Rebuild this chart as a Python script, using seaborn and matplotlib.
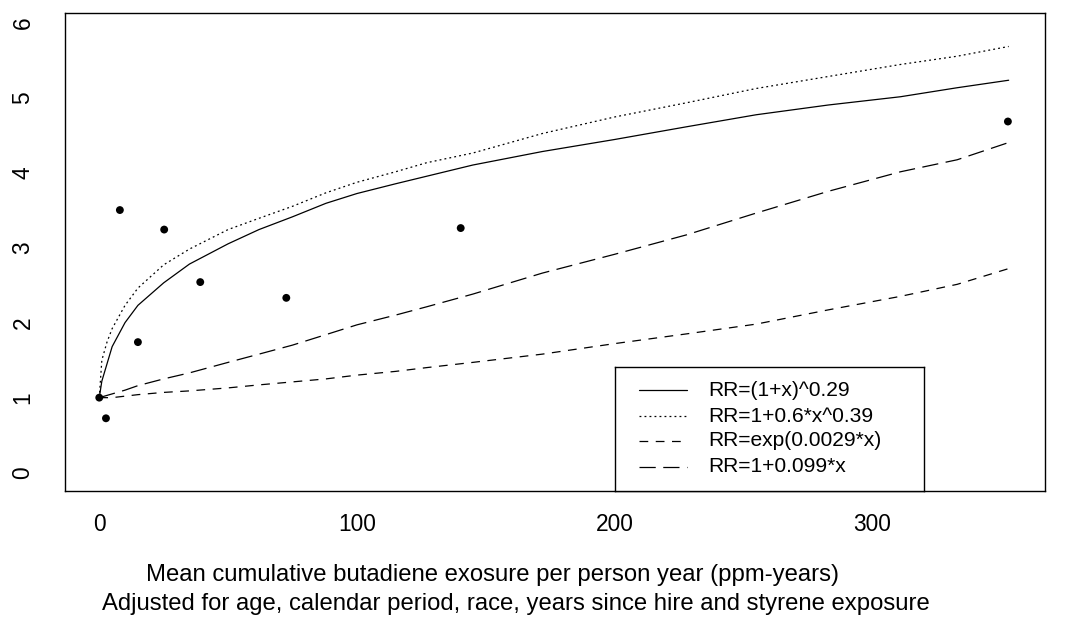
import matplotlib
matplotlib.use("Agg")
import matplotlib.pyplot as plt
from matplotlib import font_manager as fm
from matplotlib.lines import Line2D
import seaborn as sns
import pandas as pd

sns.set_theme(style="white")
_avail = {f.name for f in fm.fontManager.ttflist}
FAM = "Liberation Sans" if "Liberation Sans" in _avail else "DejaVu Sans"
plt.rcParams['font.family'] = [FAM, 'DejaVu Sans']

# ---------------- data ----------------
obs_x = [0, 2.6, 8.0, 15.0, 25.2, 39.2, 72.6, 140.3, 352.7]
obs_y = [1.0, 0.725, 3.50, 1.74, 3.24, 2.54, 2.33, 3.26, 4.68]

curve_x = [0, 1, 3, 5, 10, 15, 25, 35, 50, 62, 75, 88, 100, 115, 127, 145,
           172, 200, 228, 255, 283, 311, 333, 353]
rr_power = [1.0, 1.22, 1.45, 1.68, 2.00, 2.23, 2.53, 2.78, 3.05, 3.24, 3.41, 3.59,
            3.72, 3.85, 3.95, 4.10, 4.28, 4.44, 4.61, 4.77, 4.90, 5.01, 5.13, 5.23]
rr_power2 = [1.0, 1.50, 1.74, 1.92, 2.23, 2.46, 2.77, 2.98, 3.24, 3.39, 3.55, 3.73,
             3.87, 4.01, 4.13, 4.26, 4.52, 4.74, 4.93, 5.12, 5.28, 5.44, 5.55, 5.68]
rr_exp = [1.0, 1.0, 1.0, 1.0, 1.02, 1.04, 1.07, 1.09, 1.13, 1.17, 1.21, 1.25,
          1.30, 1.35, 1.40, 1.47, 1.58, 1.72, 1.85, 1.98, 2.17, 2.35, 2.51, 2.72]
rr_linear = [1.0, 1.01, 1.03, 1.05, 1.10, 1.16, 1.25, 1.33, 1.47, 1.58, 1.70, 1.84,
             1.97, 2.10, 2.21, 2.38, 2.66, 2.91, 3.17, 3.46, 3.75, 4.01, 4.17, 4.40]

legend_labels = ["RR=(1+x)^0.29", "RR=1+0.6*x^0.39",
                 "RR=exp(0.0029*x)", "RR=1+0.099*x"]
x_ticks = [0, 100, 200, 300]
y_ticks = [0, 1, 2, 3, 4, 5, 6]
xlab_line1 = "Mean cumulative butadiene exosure per person year (ppm-years)"
xlab_line2 = "Adjusted for age, calendar period, race, years since hire and styrene exposure"

# ---------------- styling ----------------
line_styles = ['-', (0, (1.5, 2.5)), (0, (7, 6)), (0, (13, 6))]

W, H = 1067, 617
fig = plt.figure(figsize=(W / 100, H / 100), dpi=100)
fig.patch.set_facecolor('white')
renderer = fig.canvas.get_renderer()


def fit_size(text, target_px, base=12.0):
    t = fig.text(0, 0, text, fontsize=base)
    w = t.get_window_extent(renderer).width
    t.remove()
    return base * target_px / w


def fx(px):
    return px / W


def fy(py):
    return 1 - py / H


L, R, T, B = 65, 1045, 12.7, 490.7
ax = fig.add_axes([fx(L), fy(B), (R - L) / W, (B - T) / H])
ax.set_facecolor('white')

df = pd.DataFrame({"x": curve_x * 4,
                   "RR": rr_power + rr_power2 + rr_exp + rr_linear,
                   "model": sum([[lab] * len(curve_x) for lab in legend_labels], [])})
for lab, ls in zip(legend_labels, line_styles):
    sub = df[df.model == lab]
    sns.lineplot(data=sub, x="x", y="RR", ax=ax, color='black', linewidth=0.9,
                 linestyle=ls, estimator=None, sort=False, legend=False)

sns.scatterplot(x=obs_x, y=obs_y, ax=ax, color='black', s=32, edgecolor='none',
                legend=False, zorder=5)

ax.set_xlim(-13.3, 367.1)
ax.set_ylim(-0.24, 6.13)
ax.set_xticks(x_ticks)
ax.set_yticks(y_ticks)
tick_fs = fit_size("300", 38)
ax.set_xticklabels([str(v) for v in x_ticks], fontsize=tick_fs)
ax.set_yticklabels([str(v) for v in y_ticks], fontsize=tick_fs, rotation=90, va='center')
ax.tick_params(axis='both', direction='out', length=8, width=1.0, colors='black')
ax.tick_params(axis='x', pad=8)
ax.tick_params(axis='y', pad=14)
ax.set_xlabel("")
ax.set_ylabel("")
for s in ax.spines.values():
    s.set_visible(True)
    s.set_color('black')
    s.set_linewidth(1.0)

# x-axis title (two lines)
lab_fs = fit_size(xlab_line1, 696)
fig.text(fx(492.5), fy(575), xlab_line1, ha='center', va='center', fontsize=lab_fs, color='black')
fig.text(fx(516), fy(604), xlab_line2, ha='center', va='center', fontsize=lab_fs, color='black')

# legend box
lx0, lx1, ly0, ly1 = 615, 924, 367.3, 490.7
lax = fig.add_axes([fx(lx0), fy(ly1), (lx1 - lx0) / W, (ly1 - ly0) / H], zorder=10)
lax.set_facecolor('white')
lax.set_xlim(0, 1)
lax.set_ylim(0, 1)
lax.set_xticks([])
lax.set_yticks([])
for s in lax.spines.values():
    s.set_visible(True)
    s.set_color('black')
    s.set_linewidth(1.0)
leg_fs = fit_size(legend_labels[0], 142)
row_px = [390, 416, 441, 467]
for lab, ls, rp in zip(legend_labels, line_styles, row_px):
    yy = (ly1 - rp) / (ly1 - ly0)
    lax.add_line(Line2D([(639 - lx0) / (lx1 - lx0), (687 - lx0) / (lx1 - lx0)], [yy, yy],
                        color='black', linewidth=0.9, linestyle=ls))
    lax.text((708 - lx0) / (lx1 - lx0), yy, lab, ha='left', va='center',
             fontsize=leg_fs, color='black')

fig.savefig("out.png", dpi=100, facecolor='white')
